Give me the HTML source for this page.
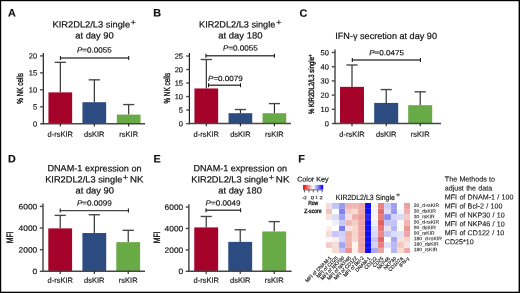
<!DOCTYPE html>
<html lang="en">
<head>
<meta charset="utf-8">
<title>Figure</title>
<style>
html,body{margin:0;padding:0;background:#fff;}
body{width:520px;height:293px;overflow:hidden;position:relative;}
svg{display:block;position:absolute;left:0;top:0;will-change:transform;}
text{font-family:'Liberation Sans', sans-serif;fill:#111;stroke:#111;stroke-width:0.16px;text-rendering:geometricPrecision;}
</style>
</head>
<body>
<svg width="520" height="293" viewBox="0 0 520 293">
<defs>
<linearGradient id="ck" x1="0" x2="1" y1="0" y2="0">
<stop offset="0" stop-color="#E00000"/>
<stop offset="0.5" stop-color="#FFFFFF"/>
<stop offset="1" stop-color="#0000F0"/>
</linearGradient>
</defs>
<rect x="0" y="0" width="520" height="293" fill="#ffffff"/>
<text transform="translate(8.00,16.40) rotate(0.03)" font-size="10.8" text-anchor="start" font-weight="bold" font-style="normal" >A</text>
<text transform="translate(153.20,16.40) rotate(0.03)" font-size="10.8" text-anchor="start" font-weight="bold" font-style="normal" >B</text>
<text transform="translate(299.40,16.80) rotate(0.03)" font-size="10.8" text-anchor="start" font-weight="bold" font-style="normal" >C</text>
<text transform="translate(8.00,162.60) rotate(0.03)" font-size="10.8" text-anchor="start" font-weight="bold" font-style="normal" >D</text>
<text transform="translate(153.40,162.60) rotate(0.03)" font-size="10.8" text-anchor="start" font-weight="bold" font-style="normal" >E</text>
<text transform="translate(298.20,162.60) rotate(0.03)" font-size="10.8" text-anchor="start" font-weight="bold" font-style="normal" >F</text>
<text transform="translate(52.56,27.50) rotate(0.03)" font-size="9.0" textLength="77.49" lengthAdjust="spacingAndGlyphs" style="stroke-width:0.2px">KIR2DL2/L3 single</text>
<text transform="translate(130.41,25.00) rotate(0.03)" font-size="8.2" textLength="5.50" lengthAdjust="spacingAndGlyphs" >+</text>
<text transform="translate(75.26,38.60) rotate(0.03)" font-size="9.0" textLength="38.49" lengthAdjust="spacingAndGlyphs" style="stroke-width:0.2px">at day 90</text>
<text transform="translate(94.30,52.60) rotate(0.03)" font-size="7.4" text-anchor="middle" textLength="34.8" lengthAdjust="spacingAndGlyphs"><tspan font-style="italic">P</tspan>=0.0055</text>
<line x1="60.40" y1="58.00" x2="128.70" y2="58.00" stroke="#484848" stroke-width="1.38"/>
<line x1="60.40" y1="56.00" x2="60.40" y2="60.00" stroke="#141414" stroke-width="1.04"/>
<line x1="128.70" y1="56.00" x2="128.70" y2="60.00" stroke="#141414" stroke-width="1.04"/>
<line x1="60.30" y1="92.37" x2="60.30" y2="62.35" stroke="#141414" stroke-width="1.04"/>
<line x1="54.70" y1="62.35" x2="65.90" y2="62.35" stroke="#484848" stroke-width="1.38"/>
<rect x="48.45" y="92.37" width="23.70" height="31.38" fill="#A50329"/>
<line x1="94.30" y1="102.21" x2="94.30" y2="79.82" stroke="#141414" stroke-width="1.04"/>
<line x1="88.70" y1="79.82" x2="99.90" y2="79.82" stroke="#484848" stroke-width="1.38"/>
<rect x="82.45" y="102.21" width="23.70" height="21.54" fill="#2C4B80"/>
<line x1="128.70" y1="114.59" x2="128.70" y2="104.58" stroke="#141414" stroke-width="1.04"/>
<line x1="123.10" y1="104.58" x2="134.30" y2="104.58" stroke="#484848" stroke-width="1.38"/>
<rect x="116.85" y="114.59" width="23.70" height="9.16" fill="#68AA46"/>
<line x1="43.30" y1="53.00" x2="43.30" y2="124.30" stroke="#141414" stroke-width="1.14"/>
<line x1="42.70" y1="123.75" x2="145.00" y2="123.75" stroke="#484848" stroke-width="1.50"/>
<line x1="40.10" y1="123.75" x2="43.30" y2="123.75" stroke="#484848" stroke-width="1.38"/>
<text transform="translate(37.20,126.45) rotate(0.03)" font-size="7.5" text-anchor="end" font-weight="normal" font-style="normal" textLength="4.17" lengthAdjust="spacingAndGlyphs">0</text>
<line x1="40.10" y1="106.79" x2="43.30" y2="106.79" stroke="#484848" stroke-width="1.38"/>
<text transform="translate(37.20,109.49) rotate(0.03)" font-size="7.5" text-anchor="end" font-weight="normal" font-style="normal" textLength="4.17" lengthAdjust="spacingAndGlyphs">5</text>
<line x1="40.10" y1="89.83" x2="43.30" y2="89.83" stroke="#484848" stroke-width="1.38"/>
<text transform="translate(37.20,92.53) rotate(0.03)" font-size="7.5" text-anchor="end" font-weight="normal" font-style="normal" textLength="8.34" lengthAdjust="spacingAndGlyphs">10</text>
<line x1="40.10" y1="72.86" x2="43.30" y2="72.86" stroke="#484848" stroke-width="1.38"/>
<text transform="translate(37.20,75.56) rotate(0.03)" font-size="7.5" text-anchor="end" font-weight="normal" font-style="normal" textLength="8.34" lengthAdjust="spacingAndGlyphs">15</text>
<line x1="40.10" y1="55.90" x2="43.30" y2="55.90" stroke="#484848" stroke-width="1.38"/>
<text transform="translate(37.20,58.60) rotate(0.03)" font-size="7.5" text-anchor="end" font-weight="normal" font-style="normal" textLength="8.34" lengthAdjust="spacingAndGlyphs">20</text>
<line x1="60.30" y1="123.75" x2="60.30" y2="126.45" stroke="#141414" stroke-width="1.04"/>
<text transform="translate(60.30,136.80) rotate(0.03)" font-size="7.5" text-anchor="middle" font-weight="normal" font-style="normal" >d-rsKIR</text>
<line x1="94.30" y1="123.75" x2="94.30" y2="126.45" stroke="#141414" stroke-width="1.04"/>
<text transform="translate(94.30,136.80) rotate(0.03)" font-size="7.5" text-anchor="middle" font-weight="normal" font-style="normal" >dsKIR</text>
<line x1="128.70" y1="123.75" x2="128.70" y2="126.45" stroke="#141414" stroke-width="1.04"/>
<text transform="translate(128.70,136.80) rotate(0.03)" font-size="7.5" text-anchor="middle" font-weight="normal" font-style="normal" >rsKIR</text>
<text transform="translate(23.10,88.40) rotate(-90)" font-size="8.8" text-anchor="middle" textLength="30.8" lengthAdjust="spacingAndGlyphs" style="stroke-width:0.36px">% NK cells</text>
<text transform="translate(199.06,27.50) rotate(0.03)" font-size="9.0" textLength="76.19" lengthAdjust="spacingAndGlyphs" style="stroke-width:0.2px">KIR2DL2/L3 single</text>
<text transform="translate(276.11,25.00) rotate(0.03)" font-size="8.2" textLength="5.60" lengthAdjust="spacingAndGlyphs" >+</text>
<text transform="translate(218.26,38.60) rotate(0.03)" font-size="9.0" textLength="44.29" lengthAdjust="spacingAndGlyphs" style="stroke-width:0.2px">at day 180</text>
<text transform="translate(240.40,50.60) rotate(0.03)" font-size="7.4" text-anchor="middle" textLength="34.8" lengthAdjust="spacingAndGlyphs"><tspan font-style="italic">P</tspan>=0.0055</text>
<line x1="205.90" y1="55.70" x2="274.40" y2="55.70" stroke="#484848" stroke-width="1.38"/>
<line x1="205.90" y1="53.70" x2="205.90" y2="57.70" stroke="#141414" stroke-width="1.04"/>
<line x1="274.40" y1="53.70" x2="274.40" y2="57.70" stroke="#141414" stroke-width="1.04"/>
<text transform="translate(208.00,80.90) rotate(0.03)" font-size="7.4" text-anchor="start" textLength="34.8" lengthAdjust="spacingAndGlyphs"><tspan font-style="italic">P</tspan>=0.0079</text>
<line x1="208.50" y1="85.20" x2="240.50" y2="85.20" stroke="#484848" stroke-width="1.38"/>
<line x1="208.50" y1="83.20" x2="208.50" y2="87.20" stroke="#141414" stroke-width="1.04"/>
<line x1="240.50" y1="83.20" x2="240.50" y2="87.20" stroke="#141414" stroke-width="1.04"/>
<line x1="206.30" y1="88.45" x2="206.30" y2="59.52" stroke="#141414" stroke-width="1.04"/>
<line x1="200.70" y1="59.52" x2="211.90" y2="59.52" stroke="#484848" stroke-width="1.38"/>
<rect x="194.45" y="88.45" width="23.70" height="35.15" fill="#A50329"/>
<line x1="240.40" y1="113.19" x2="240.40" y2="109.54" stroke="#141414" stroke-width="1.04"/>
<line x1="234.80" y1="109.54" x2="246.00" y2="109.54" stroke="#484848" stroke-width="1.38"/>
<rect x="228.55" y="113.19" width="23.70" height="10.41" fill="#2C4B80"/>
<line x1="274.40" y1="113.19" x2="274.40" y2="103.59" stroke="#141414" stroke-width="1.04"/>
<line x1="268.80" y1="103.59" x2="280.00" y2="103.59" stroke="#484848" stroke-width="1.38"/>
<rect x="262.55" y="113.19" width="23.70" height="10.41" fill="#68AA46"/>
<line x1="189.40" y1="53.10" x2="189.40" y2="124.15" stroke="#141414" stroke-width="1.14"/>
<line x1="188.80" y1="123.60" x2="291.00" y2="123.60" stroke="#484848" stroke-width="1.50"/>
<line x1="186.20" y1="123.60" x2="189.40" y2="123.60" stroke="#484848" stroke-width="1.38"/>
<text transform="translate(183.00,126.30) rotate(0.03)" font-size="7.5" text-anchor="end" font-weight="normal" font-style="normal" textLength="4.17" lengthAdjust="spacingAndGlyphs">0</text>
<line x1="186.20" y1="110.08" x2="189.40" y2="110.08" stroke="#484848" stroke-width="1.38"/>
<text transform="translate(183.00,112.78) rotate(0.03)" font-size="7.5" text-anchor="end" font-weight="normal" font-style="normal" textLength="4.17" lengthAdjust="spacingAndGlyphs">5</text>
<line x1="186.20" y1="96.56" x2="189.40" y2="96.56" stroke="#484848" stroke-width="1.38"/>
<text transform="translate(183.00,99.26) rotate(0.03)" font-size="7.5" text-anchor="end" font-weight="normal" font-style="normal" textLength="8.34" lengthAdjust="spacingAndGlyphs">10</text>
<line x1="186.20" y1="83.04" x2="189.40" y2="83.04" stroke="#484848" stroke-width="1.38"/>
<text transform="translate(183.00,85.74) rotate(0.03)" font-size="7.5" text-anchor="end" font-weight="normal" font-style="normal" textLength="8.34" lengthAdjust="spacingAndGlyphs">15</text>
<line x1="186.20" y1="69.52" x2="189.40" y2="69.52" stroke="#484848" stroke-width="1.38"/>
<text transform="translate(183.00,72.22) rotate(0.03)" font-size="7.5" text-anchor="end" font-weight="normal" font-style="normal" textLength="8.34" lengthAdjust="spacingAndGlyphs">20</text>
<line x1="186.20" y1="56.00" x2="189.40" y2="56.00" stroke="#484848" stroke-width="1.38"/>
<text transform="translate(183.00,58.70) rotate(0.03)" font-size="7.5" text-anchor="end" font-weight="normal" font-style="normal" textLength="8.34" lengthAdjust="spacingAndGlyphs">25</text>
<line x1="206.30" y1="123.60" x2="206.30" y2="126.30" stroke="#141414" stroke-width="1.04"/>
<text transform="translate(206.30,136.80) rotate(0.03)" font-size="7.5" text-anchor="middle" font-weight="normal" font-style="normal" >d-rsKIR</text>
<line x1="240.40" y1="123.60" x2="240.40" y2="126.30" stroke="#141414" stroke-width="1.04"/>
<text transform="translate(240.40,136.80) rotate(0.03)" font-size="7.5" text-anchor="middle" font-weight="normal" font-style="normal" >dsKIR</text>
<line x1="274.40" y1="123.60" x2="274.40" y2="126.30" stroke="#141414" stroke-width="1.04"/>
<text transform="translate(274.40,136.80) rotate(0.03)" font-size="7.5" text-anchor="middle" font-weight="normal" font-style="normal" >rsKIR</text>
<text transform="translate(169.60,88.20) rotate(-90)" font-size="8.8" text-anchor="middle" textLength="30.8" lengthAdjust="spacingAndGlyphs" style="stroke-width:0.36px">% NK cells</text>
<text transform="translate(335.26,38.90) rotate(0.03)" font-size="9.0" textLength="101.69" lengthAdjust="spacingAndGlyphs" style="stroke-width:0.2px">IFN-γ secretion at day 90</text>
<text transform="translate(386.60,55.20) rotate(0.03)" font-size="7.4" text-anchor="middle" textLength="34.8" lengthAdjust="spacingAndGlyphs"><tspan font-style="italic">P</tspan>=0.0475</text>
<line x1="352.30" y1="60.00" x2="420.40" y2="60.00" stroke="#484848" stroke-width="1.38"/>
<line x1="352.30" y1="58.00" x2="352.30" y2="62.00" stroke="#141414" stroke-width="1.04"/>
<line x1="420.40" y1="58.00" x2="420.40" y2="62.00" stroke="#141414" stroke-width="1.04"/>
<line x1="352.00" y1="86.86" x2="352.00" y2="65.00" stroke="#141414" stroke-width="1.04"/>
<line x1="346.40" y1="65.00" x2="357.60" y2="65.00" stroke="#484848" stroke-width="1.38"/>
<rect x="340.00" y="86.86" width="24.00" height="36.64" fill="#A50329"/>
<line x1="386.20" y1="102.91" x2="386.20" y2="89.56" stroke="#141414" stroke-width="1.04"/>
<line x1="380.60" y1="89.56" x2="391.80" y2="89.56" stroke="#484848" stroke-width="1.38"/>
<rect x="374.20" y="102.91" width="24.00" height="20.59" fill="#2C4B80"/>
<line x1="420.20" y1="105.18" x2="420.20" y2="91.83" stroke="#141414" stroke-width="1.04"/>
<line x1="414.60" y1="91.83" x2="425.80" y2="91.83" stroke="#484848" stroke-width="1.38"/>
<rect x="408.20" y="105.18" width="24.00" height="18.32" fill="#68AA46"/>
<line x1="335.00" y1="49.60" x2="335.00" y2="124.05" stroke="#141414" stroke-width="1.14"/>
<line x1="334.40" y1="123.50" x2="441.00" y2="123.50" stroke="#484848" stroke-width="1.50"/>
<line x1="331.80" y1="123.50" x2="335.00" y2="123.50" stroke="#484848" stroke-width="1.38"/>
<text transform="translate(328.80,126.20) rotate(0.03)" font-size="7.5" text-anchor="end" font-weight="normal" font-style="normal" textLength="4.17" lengthAdjust="spacingAndGlyphs">0</text>
<line x1="331.80" y1="109.30" x2="335.00" y2="109.30" stroke="#484848" stroke-width="1.38"/>
<text transform="translate(328.80,112.00) rotate(0.03)" font-size="7.5" text-anchor="end" font-weight="normal" font-style="normal" textLength="8.34" lengthAdjust="spacingAndGlyphs">10</text>
<line x1="331.80" y1="95.10" x2="335.00" y2="95.10" stroke="#484848" stroke-width="1.38"/>
<text transform="translate(328.80,97.80) rotate(0.03)" font-size="7.5" text-anchor="end" font-weight="normal" font-style="normal" textLength="8.34" lengthAdjust="spacingAndGlyphs">20</text>
<line x1="331.80" y1="80.90" x2="335.00" y2="80.90" stroke="#484848" stroke-width="1.38"/>
<text transform="translate(328.80,83.60) rotate(0.03)" font-size="7.5" text-anchor="end" font-weight="normal" font-style="normal" textLength="8.34" lengthAdjust="spacingAndGlyphs">30</text>
<line x1="331.80" y1="66.70" x2="335.00" y2="66.70" stroke="#484848" stroke-width="1.38"/>
<text transform="translate(328.80,69.40) rotate(0.03)" font-size="7.5" text-anchor="end" font-weight="normal" font-style="normal" textLength="8.34" lengthAdjust="spacingAndGlyphs">40</text>
<line x1="331.80" y1="52.50" x2="335.00" y2="52.50" stroke="#484848" stroke-width="1.38"/>
<text transform="translate(328.80,55.20) rotate(0.03)" font-size="7.5" text-anchor="end" font-weight="normal" font-style="normal" textLength="8.34" lengthAdjust="spacingAndGlyphs">50</text>
<line x1="352.00" y1="123.50" x2="352.00" y2="126.20" stroke="#141414" stroke-width="1.04"/>
<text transform="translate(352.00,136.80) rotate(0.03)" font-size="7.5" text-anchor="middle" font-weight="normal" font-style="normal" >d-rsKIR</text>
<line x1="386.20" y1="123.50" x2="386.20" y2="126.20" stroke="#141414" stroke-width="1.04"/>
<text transform="translate(386.20,136.80) rotate(0.03)" font-size="7.5" text-anchor="middle" font-weight="normal" font-style="normal" >dsKIR</text>
<line x1="420.20" y1="123.50" x2="420.20" y2="126.20" stroke="#141414" stroke-width="1.04"/>
<text transform="translate(420.20,136.80) rotate(0.03)" font-size="7.5" text-anchor="middle" font-weight="normal" font-style="normal" >rsKIR</text>
<text transform="translate(314.20,84.30) rotate(-90)" font-size="7.7" text-anchor="middle" textLength="59.6" lengthAdjust="spacingAndGlyphs" style="stroke-width:0.36px">% KIR2DL2/L3 single<tspan font-size="5.5" dy="-2.2">+</tspan></text>
<text transform="translate(47.46,171.35) rotate(0.03)" font-size="9.0" textLength="94.09" lengthAdjust="spacingAndGlyphs" style="stroke-width:0.2px">DNAM-1 expression on</text>
<text transform="translate(45.16,182.55) rotate(0.03)" font-size="9.0" textLength="77.19" lengthAdjust="spacingAndGlyphs" style="stroke-width:0.2px">KIR2DL2/L3 single</text>
<text transform="translate(122.51,180.10) rotate(0.03)" font-size="8.2" textLength="5.70" lengthAdjust="spacingAndGlyphs" >+</text>
<text transform="translate(129.96,182.55) rotate(0.03)" font-size="9.0" textLength="13.49" lengthAdjust="spacingAndGlyphs" style="stroke-width:0.2px">NK</text>
<text transform="translate(75.46,193.60) rotate(0.03)" font-size="9.0" textLength="38.59" lengthAdjust="spacingAndGlyphs" style="stroke-width:0.2px">at day 90</text>
<text transform="translate(94.30,205.40) rotate(0.03)" font-size="7.4" text-anchor="middle" textLength="34.8" lengthAdjust="spacingAndGlyphs"><tspan font-style="italic">P</tspan>=0.0099</text>
<line x1="60.20" y1="210.60" x2="128.40" y2="210.60" stroke="#484848" stroke-width="1.38"/>
<line x1="60.20" y1="208.60" x2="60.20" y2="212.60" stroke="#141414" stroke-width="1.04"/>
<line x1="128.40" y1="208.60" x2="128.40" y2="212.60" stroke="#141414" stroke-width="1.04"/>
<line x1="60.20" y1="228.37" x2="60.20" y2="215.38" stroke="#141414" stroke-width="1.04"/>
<line x1="54.60" y1="215.38" x2="65.80" y2="215.38" stroke="#484848" stroke-width="1.38"/>
<rect x="48.30" y="228.37" width="23.80" height="42.98" fill="#A50329"/>
<line x1="94.30" y1="233.03" x2="94.30" y2="214.74" stroke="#141414" stroke-width="1.04"/>
<line x1="88.70" y1="214.74" x2="99.90" y2="214.74" stroke="#484848" stroke-width="1.38"/>
<rect x="82.40" y="233.03" width="23.80" height="38.32" fill="#2C4B80"/>
<line x1="128.20" y1="242.12" x2="128.20" y2="230.32" stroke="#141414" stroke-width="1.04"/>
<line x1="122.60" y1="230.32" x2="133.80" y2="230.32" stroke="#484848" stroke-width="1.38"/>
<rect x="116.30" y="242.12" width="23.80" height="29.23" fill="#68AA46"/>
<line x1="43.00" y1="203.50" x2="43.00" y2="271.90" stroke="#141414" stroke-width="1.14"/>
<line x1="42.40" y1="271.35" x2="145.00" y2="271.35" stroke="#484848" stroke-width="1.50"/>
<line x1="39.80" y1="271.35" x2="43.00" y2="271.35" stroke="#484848" stroke-width="1.38"/>
<text transform="translate(37.20,274.12) rotate(0.03)" font-size="7.7" text-anchor="end" font-weight="normal" font-style="normal" textLength="4.67" lengthAdjust="spacingAndGlyphs">0</text>
<line x1="39.80" y1="249.70" x2="43.00" y2="249.70" stroke="#484848" stroke-width="1.38"/>
<text transform="translate(37.20,252.47) rotate(0.03)" font-size="7.7" text-anchor="end" font-weight="normal" font-style="normal" textLength="18.67" lengthAdjust="spacingAndGlyphs">2000</text>
<line x1="39.80" y1="228.05" x2="43.00" y2="228.05" stroke="#484848" stroke-width="1.38"/>
<text transform="translate(37.20,230.82) rotate(0.03)" font-size="7.7" text-anchor="end" font-weight="normal" font-style="normal" textLength="18.67" lengthAdjust="spacingAndGlyphs">4000</text>
<line x1="39.80" y1="206.40" x2="43.00" y2="206.40" stroke="#484848" stroke-width="1.38"/>
<text transform="translate(37.20,209.17) rotate(0.03)" font-size="7.7" text-anchor="end" font-weight="normal" font-style="normal" textLength="18.67" lengthAdjust="spacingAndGlyphs">6000</text>
<line x1="60.20" y1="271.35" x2="60.20" y2="274.05" stroke="#141414" stroke-width="1.04"/>
<text transform="translate(60.20,282.70) rotate(0.03)" font-size="7.5" text-anchor="middle" font-weight="normal" font-style="normal" >d-rsKIR</text>
<line x1="94.30" y1="271.35" x2="94.30" y2="274.05" stroke="#141414" stroke-width="1.04"/>
<text transform="translate(94.30,282.70) rotate(0.03)" font-size="7.5" text-anchor="middle" font-weight="normal" font-style="normal" >dsKIR</text>
<line x1="128.20" y1="271.35" x2="128.20" y2="274.05" stroke="#141414" stroke-width="1.04"/>
<text transform="translate(128.20,282.70) rotate(0.03)" font-size="7.5" text-anchor="middle" font-weight="normal" font-style="normal" >rsKIR</text>
<text transform="translate(13.30,237.40) rotate(-90)" font-size="9.3" text-anchor="middle" textLength="11.8" lengthAdjust="spacingAndGlyphs" style="stroke-width:0.36px">MFI</text>
<text transform="translate(193.56,171.35) rotate(0.03)" font-size="9.0" textLength="93.49" lengthAdjust="spacingAndGlyphs" style="stroke-width:0.2px">DNAM-1 expression on</text>
<text transform="translate(191.26,182.55) rotate(0.03)" font-size="9.0" textLength="77.09" lengthAdjust="spacingAndGlyphs" style="stroke-width:0.2px">KIR2DL2/L3 single</text>
<text transform="translate(268.61,180.10) rotate(0.03)" font-size="8.2" textLength="5.70" lengthAdjust="spacingAndGlyphs" >+</text>
<text transform="translate(275.86,182.55) rotate(0.03)" font-size="9.0" textLength="13.69" lengthAdjust="spacingAndGlyphs" style="stroke-width:0.2px">NK</text>
<text transform="translate(218.26,193.60) rotate(0.03)" font-size="9.0" textLength="43.59" lengthAdjust="spacingAndGlyphs" style="stroke-width:0.2px">at day 180</text>
<text transform="translate(205.60,205.40) rotate(0.03)" font-size="7.4" text-anchor="start" textLength="34.8" lengthAdjust="spacingAndGlyphs"><tspan font-style="italic">P</tspan>=0.0049</text>
<line x1="206.00" y1="210.20" x2="240.60" y2="210.20" stroke="#484848" stroke-width="1.38"/>
<line x1="206.00" y1="208.20" x2="206.00" y2="212.20" stroke="#141414" stroke-width="1.04"/>
<line x1="240.60" y1="208.20" x2="240.60" y2="212.20" stroke="#141414" stroke-width="1.04"/>
<line x1="206.20" y1="227.41" x2="206.20" y2="216.48" stroke="#141414" stroke-width="1.04"/>
<line x1="200.60" y1="216.48" x2="211.80" y2="216.48" stroke="#484848" stroke-width="1.38"/>
<rect x="194.25" y="227.41" width="23.90" height="43.94" fill="#A50329"/>
<line x1="240.20" y1="241.88" x2="240.20" y2="229.77" stroke="#141414" stroke-width="1.04"/>
<line x1="234.60" y1="229.77" x2="245.80" y2="229.77" stroke="#484848" stroke-width="1.38"/>
<rect x="228.25" y="241.88" width="23.90" height="29.47" fill="#2C4B80"/>
<line x1="274.20" y1="231.48" x2="274.20" y2="221.62" stroke="#141414" stroke-width="1.04"/>
<line x1="268.60" y1="221.62" x2="279.80" y2="221.62" stroke="#484848" stroke-width="1.38"/>
<rect x="262.25" y="231.48" width="23.90" height="39.87" fill="#68AA46"/>
<line x1="188.90" y1="204.15" x2="188.90" y2="271.90" stroke="#141414" stroke-width="1.14"/>
<line x1="188.30" y1="271.35" x2="291.60" y2="271.35" stroke="#484848" stroke-width="1.50"/>
<line x1="185.70" y1="271.35" x2="188.90" y2="271.35" stroke="#484848" stroke-width="1.38"/>
<text transform="translate(183.20,274.12) rotate(0.03)" font-size="7.7" text-anchor="end" font-weight="normal" font-style="normal" textLength="4.67" lengthAdjust="spacingAndGlyphs">0</text>
<line x1="185.70" y1="249.92" x2="188.90" y2="249.92" stroke="#484848" stroke-width="1.38"/>
<text transform="translate(183.20,252.69) rotate(0.03)" font-size="7.7" text-anchor="end" font-weight="normal" font-style="normal" textLength="18.67" lengthAdjust="spacingAndGlyphs">2000</text>
<line x1="185.70" y1="228.48" x2="188.90" y2="228.48" stroke="#484848" stroke-width="1.38"/>
<text transform="translate(183.20,231.26) rotate(0.03)" font-size="7.7" text-anchor="end" font-weight="normal" font-style="normal" textLength="18.67" lengthAdjust="spacingAndGlyphs">4000</text>
<line x1="185.70" y1="207.05" x2="188.90" y2="207.05" stroke="#484848" stroke-width="1.38"/>
<text transform="translate(183.20,209.82) rotate(0.03)" font-size="7.7" text-anchor="end" font-weight="normal" font-style="normal" textLength="18.67" lengthAdjust="spacingAndGlyphs">6000</text>
<line x1="206.20" y1="271.35" x2="206.20" y2="274.05" stroke="#141414" stroke-width="1.04"/>
<text transform="translate(206.20,282.70) rotate(0.03)" font-size="7.5" text-anchor="middle" font-weight="normal" font-style="normal" >d-rsKIR</text>
<line x1="240.20" y1="271.35" x2="240.20" y2="274.05" stroke="#141414" stroke-width="1.04"/>
<text transform="translate(240.20,282.70) rotate(0.03)" font-size="7.5" text-anchor="middle" font-weight="normal" font-style="normal" >dsKIR</text>
<line x1="274.20" y1="271.35" x2="274.20" y2="274.05" stroke="#141414" stroke-width="1.04"/>
<text transform="translate(274.20,282.70) rotate(0.03)" font-size="7.5" text-anchor="middle" font-weight="normal" font-style="normal" >rsKIR</text>
<text transform="translate(159.50,237.40) rotate(-90)" font-size="9.3" text-anchor="middle" textLength="11.8" lengthAdjust="spacingAndGlyphs" style="stroke-width:0.36px">MFI</text>
<text transform="translate(297.19,181.40) rotate(0.03)" font-size="6.9" textLength="31.36" lengthAdjust="spacingAndGlyphs" >Color Key</text>
<rect x="303.1" y="184.9" width="20.1" height="4.4" fill="url(#ck)"/>
<line x1="303.10" y1="189.90" x2="323.20" y2="189.90" stroke="#222" stroke-width="0.70"/>
<line x1="304.50" y1="189.90" x2="304.50" y2="192.40" stroke="#222" stroke-width="0.70"/>
<line x1="308.90" y1="189.90" x2="308.90" y2="192.40" stroke="#222" stroke-width="0.70"/>
<line x1="313.30" y1="189.90" x2="313.30" y2="192.40" stroke="#222" stroke-width="0.70"/>
<line x1="317.70" y1="189.90" x2="317.70" y2="192.40" stroke="#222" stroke-width="0.70"/>
<line x1="322.10" y1="189.90" x2="322.10" y2="192.40" stroke="#222" stroke-width="0.70"/>
<text transform="translate(302.52,199.20) rotate(0.03)" font-size="4.7" textLength="4.22" lengthAdjust="spacingAndGlyphs" >-2</text>
<text transform="translate(310.92,199.20) rotate(0.03)" font-size="4.7" textLength="2.92" lengthAdjust="spacingAndGlyphs" >0</text>
<text transform="translate(315.62,199.20) rotate(0.03)" font-size="4.7" textLength="1.92" lengthAdjust="spacingAndGlyphs" >1</text>
<text transform="translate(319.62,199.20) rotate(0.03)" font-size="4.7" textLength="3.12" lengthAdjust="spacingAndGlyphs" >2</text>
<text transform="translate(308.14,205.40) rotate(0.03)" font-size="6.0" textLength="9.96" lengthAdjust="spacingAndGlyphs" style="stroke-width:0.3px">Row</text>
<text transform="translate(304.24,212.90) rotate(0.03)" font-size="6.0" textLength="17.46" lengthAdjust="spacingAndGlyphs" style="stroke-width:0.3px">Z-score</text>
<text transform="translate(335.84,199.60) rotate(0.03)" font-size="7.6" textLength="58.94" lengthAdjust="spacingAndGlyphs" >KIR2DL2/L3 Single</text>
<text transform="translate(396.06,196.80) rotate(0.03)" font-size="5.6" textLength="4.22" lengthAdjust="spacingAndGlyphs" >+</text>
<g shape-rendering="crispEdges">
<rect x="326.00" y="203.20" width="6.54" height="5.63" fill="#F2DCDC"/>
<rect x="332.49" y="203.20" width="6.54" height="5.63" fill="#C0C4F4"/>
<rect x="338.98" y="203.20" width="6.54" height="5.63" fill="#9A9AF0"/>
<rect x="345.47" y="203.20" width="6.54" height="5.63" fill="#F0B4B4"/>
<rect x="351.96" y="203.20" width="6.54" height="5.63" fill="#F0B8B4"/>
<rect x="358.45" y="203.20" width="6.54" height="5.63" fill="#EFA8A8"/>
<rect x="364.94" y="203.20" width="6.54" height="5.63" fill="#0E0EF4"/>
<rect x="371.43" y="203.20" width="6.54" height="5.63" fill="#FCF8F0"/>
<rect x="377.92" y="203.20" width="6.54" height="5.63" fill="#E88080"/>
<rect x="384.41" y="203.20" width="6.54" height="5.63" fill="#CCCCF8"/>
<rect x="390.90" y="203.20" width="6.54" height="5.63" fill="#A0A0F2"/>
<rect x="397.39" y="203.20" width="6.54" height="5.63" fill="#FFFFFF"/>
<rect x="403.88" y="203.20" width="6.54" height="5.63" fill="#EEA0A0"/>
<rect x="326.00" y="208.78" width="6.54" height="5.63" fill="#F4C4BC"/>
<rect x="332.49" y="208.78" width="6.54" height="5.63" fill="#FFFFFF"/>
<rect x="338.98" y="208.78" width="6.54" height="5.63" fill="#8080EE"/>
<rect x="345.47" y="208.78" width="6.54" height="5.63" fill="#F4CCC8"/>
<rect x="351.96" y="208.78" width="6.54" height="5.63" fill="#F6DCD0"/>
<rect x="358.45" y="208.78" width="6.54" height="5.63" fill="#EFA8A8"/>
<rect x="364.94" y="208.78" width="6.54" height="5.63" fill="#0E0EF4"/>
<rect x="371.43" y="208.78" width="6.54" height="5.63" fill="#F0F4FF"/>
<rect x="377.92" y="208.78" width="6.54" height="5.63" fill="#E46C6C"/>
<rect x="384.41" y="208.78" width="6.54" height="5.63" fill="#E4DCF0"/>
<rect x="390.90" y="208.78" width="6.54" height="5.63" fill="#9898F0"/>
<rect x="397.39" y="208.78" width="6.54" height="5.63" fill="#F0F4FC"/>
<rect x="403.88" y="208.78" width="6.54" height="5.63" fill="#F0B0B0"/>
<rect x="326.00" y="214.36" width="6.54" height="5.63" fill="#F8E4DC"/>
<rect x="332.49" y="214.36" width="6.54" height="5.63" fill="#DCDCF8"/>
<rect x="338.98" y="214.36" width="6.54" height="5.63" fill="#A0A0F4"/>
<rect x="345.47" y="214.36" width="6.54" height="5.63" fill="#F2E0E0"/>
<rect x="351.96" y="214.36" width="6.54" height="5.63" fill="#F0B0AC"/>
<rect x="358.45" y="214.36" width="6.54" height="5.63" fill="#EE9C9C"/>
<rect x="364.94" y="214.36" width="6.54" height="5.63" fill="#2222F0"/>
<rect x="371.43" y="214.36" width="6.54" height="5.63" fill="#FCF4EC"/>
<rect x="377.92" y="214.36" width="6.54" height="5.63" fill="#E87C7C"/>
<rect x="384.41" y="214.36" width="6.54" height="5.63" fill="#8C8CF0"/>
<rect x="390.90" y="214.36" width="6.54" height="5.63" fill="#D4D4F8"/>
<rect x="397.39" y="214.36" width="6.54" height="5.63" fill="#D8D8F8"/>
<rect x="403.88" y="214.36" width="6.54" height="5.63" fill="#F4C8C8"/>
<rect x="326.00" y="219.94" width="6.54" height="5.63" fill="#FFFFFF"/>
<rect x="332.49" y="219.94" width="6.54" height="5.63" fill="#F0F0FC"/>
<rect x="338.98" y="219.94" width="6.54" height="5.63" fill="#C8C8F6"/>
<rect x="345.47" y="219.94" width="6.54" height="5.63" fill="#F2B8B8"/>
<rect x="351.96" y="219.94" width="6.54" height="5.63" fill="#F4CCC4"/>
<rect x="358.45" y="219.94" width="6.54" height="5.63" fill="#EFA4A4"/>
<rect x="364.94" y="219.94" width="6.54" height="5.63" fill="#0E0EF4"/>
<rect x="371.43" y="219.94" width="6.54" height="5.63" fill="#ECF0FC"/>
<rect x="377.92" y="219.94" width="6.54" height="5.63" fill="#E26060"/>
<rect x="384.41" y="219.94" width="6.54" height="5.63" fill="#C4C4F6"/>
<rect x="390.90" y="219.94" width="6.54" height="5.63" fill="#C0C0F4"/>
<rect x="397.39" y="219.94" width="6.54" height="5.63" fill="#FCF8F0"/>
<rect x="403.88" y="219.94" width="6.54" height="5.63" fill="#F0B4B0"/>
<rect x="326.00" y="225.52" width="6.54" height="5.63" fill="#FAF0E8"/>
<rect x="332.49" y="225.52" width="6.54" height="5.63" fill="#FFFFFF"/>
<rect x="338.98" y="225.52" width="6.54" height="5.63" fill="#7C7CEC"/>
<rect x="345.47" y="225.52" width="6.54" height="5.63" fill="#F4E4E4"/>
<rect x="351.96" y="225.52" width="6.54" height="5.63" fill="#F6D8CC"/>
<rect x="358.45" y="225.52" width="6.54" height="5.63" fill="#EFA4A4"/>
<rect x="364.94" y="225.52" width="6.54" height="5.63" fill="#0E0EF4"/>
<rect x="371.43" y="225.52" width="6.54" height="5.63" fill="#DCE0FA"/>
<rect x="377.92" y="225.52" width="6.54" height="5.63" fill="#E87878"/>
<rect x="384.41" y="225.52" width="6.54" height="5.63" fill="#E8E0F0"/>
<rect x="390.90" y="225.52" width="6.54" height="5.63" fill="#B4B4F4"/>
<rect x="397.39" y="225.52" width="6.54" height="5.63" fill="#FCFAF4"/>
<rect x="403.88" y="225.52" width="6.54" height="5.63" fill="#EC9494"/>
<rect x="326.00" y="231.10" width="6.54" height="5.63" fill="#F4DCD8"/>
<rect x="332.49" y="231.10" width="6.54" height="5.63" fill="#C4C4F6"/>
<rect x="338.98" y="231.10" width="6.54" height="5.63" fill="#D0D0F8"/>
<rect x="345.47" y="231.10" width="6.54" height="5.63" fill="#F0B0A4"/>
<rect x="351.96" y="231.10" width="6.54" height="5.63" fill="#F6D4C8"/>
<rect x="358.45" y="231.10" width="6.54" height="5.63" fill="#EFA4A4"/>
<rect x="364.94" y="231.10" width="6.54" height="5.63" fill="#0E0EF4"/>
<rect x="371.43" y="231.10" width="6.54" height="5.63" fill="#D8D8F8"/>
<rect x="377.92" y="231.10" width="6.54" height="5.63" fill="#EA8888"/>
<rect x="384.41" y="231.10" width="6.54" height="5.63" fill="#C4C4F6"/>
<rect x="390.90" y="231.10" width="6.54" height="5.63" fill="#DCDCF8"/>
<rect x="397.39" y="231.10" width="6.54" height="5.63" fill="#E0E0F8"/>
<rect x="403.88" y="231.10" width="6.54" height="5.63" fill="#EEA4A4"/>
<rect x="326.00" y="236.68" width="6.54" height="5.63" fill="#F8F8FF"/>
<rect x="332.49" y="236.68" width="6.54" height="5.63" fill="#FAEEE6"/>
<rect x="338.98" y="236.68" width="6.54" height="5.63" fill="#D4D4F8"/>
<rect x="345.47" y="236.68" width="6.54" height="5.63" fill="#F0B4AC"/>
<rect x="351.96" y="236.68" width="6.54" height="5.63" fill="#F4D8D4"/>
<rect x="358.45" y="236.68" width="6.54" height="5.63" fill="#EFA8A8"/>
<rect x="364.94" y="236.68" width="6.54" height="5.63" fill="#0E0EF4"/>
<rect x="371.43" y="236.68" width="6.54" height="5.63" fill="#C4C4F6"/>
<rect x="377.92" y="236.68" width="6.54" height="5.63" fill="#E46464"/>
<rect x="384.41" y="236.68" width="6.54" height="5.63" fill="#FFFFFF"/>
<rect x="390.90" y="236.68" width="6.54" height="5.63" fill="#A4A4F2"/>
<rect x="397.39" y="236.68" width="6.54" height="5.63" fill="#F4E0DC"/>
<rect x="403.88" y="236.68" width="6.54" height="5.63" fill="#F6D4CC"/>
<rect x="326.00" y="242.26" width="6.54" height="5.63" fill="#F4CCC4"/>
<rect x="332.49" y="242.26" width="6.54" height="5.63" fill="#F2DCDC"/>
<rect x="338.98" y="242.26" width="6.54" height="5.63" fill="#A4A4F2"/>
<rect x="345.47" y="242.26" width="6.54" height="5.63" fill="#F0B0AC"/>
<rect x="351.96" y="242.26" width="6.54" height="5.63" fill="#FCF8F0"/>
<rect x="358.45" y="242.26" width="6.54" height="5.63" fill="#EFA4A4"/>
<rect x="364.94" y="242.26" width="6.54" height="5.63" fill="#0E0EF4"/>
<rect x="371.43" y="242.26" width="6.54" height="5.63" fill="#D0D0F8"/>
<rect x="377.92" y="242.26" width="6.54" height="5.63" fill="#E88080"/>
<rect x="384.41" y="242.26" width="6.54" height="5.63" fill="#E0E0FA"/>
<rect x="390.90" y="242.26" width="6.54" height="5.63" fill="#B8B8F4"/>
<rect x="397.39" y="242.26" width="6.54" height="5.63" fill="#F4C8BC"/>
<rect x="403.88" y="242.26" width="6.54" height="5.63" fill="#F4E4E4"/>
<rect x="326.00" y="247.84" width="6.54" height="5.63" fill="#FFFCF8"/>
<rect x="332.49" y="247.84" width="6.54" height="5.63" fill="#F8DCD0"/>
<rect x="338.98" y="247.84" width="6.54" height="5.63" fill="#C4C4F6"/>
<rect x="345.47" y="247.84" width="6.54" height="5.63" fill="#EC9090"/>
<rect x="351.96" y="247.84" width="6.54" height="5.63" fill="#FAF0E8"/>
<rect x="358.45" y="247.84" width="6.54" height="5.63" fill="#EFA8A8"/>
<rect x="364.94" y="247.84" width="6.54" height="5.63" fill="#0E0EF4"/>
<rect x="371.43" y="247.84" width="6.54" height="5.63" fill="#A8A8F2"/>
<rect x="377.92" y="247.84" width="6.54" height="5.63" fill="#EEA4A4"/>
<rect x="384.41" y="247.84" width="6.54" height="5.63" fill="#FCFCFF"/>
<rect x="390.90" y="247.84" width="6.54" height="5.63" fill="#B4B4F4"/>
<rect x="397.39" y="247.84" width="6.54" height="5.63" fill="#F8DCD0"/>
<rect x="403.88" y="247.84" width="6.54" height="5.63" fill="#EEA8A8"/>
</g><g stroke="#ffffff" stroke-opacity="0.28" stroke-width="0.5">
<line x1="326.00" y1="208.78" x2="410.37" y2="208.78"/>
<line x1="326.00" y1="214.36" x2="410.37" y2="214.36"/>
<line x1="326.00" y1="219.94" x2="410.37" y2="219.94"/>
<line x1="326.00" y1="225.52" x2="410.37" y2="225.52"/>
<line x1="326.00" y1="231.10" x2="410.37" y2="231.10"/>
<line x1="326.00" y1="236.68" x2="410.37" y2="236.68"/>
<line x1="326.00" y1="242.26" x2="410.37" y2="242.26"/>
<line x1="326.00" y1="247.84" x2="410.37" y2="247.84"/>
<line x1="332.49" y1="203.20" x2="332.49" y2="253.42"/>
<line x1="338.98" y1="203.20" x2="338.98" y2="253.42"/>
<line x1="345.47" y1="203.20" x2="345.47" y2="253.42"/>
<line x1="351.96" y1="203.20" x2="351.96" y2="253.42"/>
<line x1="358.45" y1="203.20" x2="358.45" y2="253.42"/>
<line x1="364.94" y1="203.20" x2="364.94" y2="253.42"/>
<line x1="371.43" y1="203.20" x2="371.43" y2="253.42"/>
<line x1="377.92" y1="203.20" x2="377.92" y2="253.42"/>
<line x1="384.41" y1="203.20" x2="384.41" y2="253.42"/>
<line x1="390.90" y1="203.20" x2="390.90" y2="253.42"/>
<line x1="397.39" y1="203.20" x2="397.39" y2="253.42"/>
<line x1="403.88" y1="203.20" x2="403.88" y2="253.42"/>
</g>
<text transform="translate(413.80,207.10) rotate(0.03)" font-size="5.0" text-anchor="start" font-weight="normal" font-style="normal" style="stroke-width:0.07px;fill:#141414">30_d-rsKIR</text>
<text transform="translate(413.80,212.63) rotate(0.03)" font-size="5.0" text-anchor="start" font-weight="normal" font-style="normal" style="stroke-width:0.07px;fill:#141414">30_dsKIR</text>
<text transform="translate(413.80,218.16) rotate(0.03)" font-size="5.0" text-anchor="start" font-weight="normal" font-style="normal" style="stroke-width:0.07px;fill:#141414">30_rsKIR</text>
<text transform="translate(413.80,223.69) rotate(0.03)" font-size="5.0" text-anchor="start" font-weight="normal" font-style="normal" style="stroke-width:0.07px;fill:#141414">90_d-rsKIR</text>
<text transform="translate(413.80,229.22) rotate(0.03)" font-size="5.0" text-anchor="start" font-weight="normal" font-style="normal" style="stroke-width:0.07px;fill:#141414">90_dsKIR</text>
<text transform="translate(413.80,234.75) rotate(0.03)" font-size="5.0" text-anchor="start" font-weight="normal" font-style="normal" style="stroke-width:0.07px;fill:#141414">90_rsKIR</text>
<text transform="translate(413.80,240.28) rotate(0.03)" font-size="5.0" text-anchor="start" font-weight="normal" font-style="normal" style="stroke-width:0.07px;fill:#141414">180_d-rsKIR</text>
<text transform="translate(413.80,245.81) rotate(0.03)" font-size="5.0" text-anchor="start" font-weight="normal" font-style="normal" style="stroke-width:0.07px;fill:#141414">180_dsKIR</text>
<text transform="translate(413.80,251.34) rotate(0.03)" font-size="5.0" text-anchor="start" font-weight="normal" font-style="normal" style="stroke-width:0.07px;fill:#141414">180_rsKIR</text>
<text transform="translate(331.75,258.20) rotate(-45)" font-size="5.0" text-anchor="end" style="stroke-width:0.14px">MFI of DNAM-1</text>
<text transform="translate(338.24,258.20) rotate(-45)" font-size="5.0" text-anchor="end" style="stroke-width:0.14px">MFI of CD25</text>
<text transform="translate(344.73,258.20) rotate(-45)" font-size="5.0" text-anchor="end" style="stroke-width:0.14px">MFI of NKP30</text>
<text transform="translate(351.21,258.20) rotate(-45)" font-size="5.0" text-anchor="end" style="stroke-width:0.14px">MFI of NKP46</text>
<text transform="translate(357.70,258.20) rotate(-45)" font-size="5.0" text-anchor="end" style="stroke-width:0.14px">MFI of CD122</text>
<text transform="translate(364.19,258.20) rotate(-45)" font-size="5.0" text-anchor="end" style="stroke-width:0.14px">MFI of Bcl-2</text>
<text transform="translate(370.69,258.80) rotate(-45)" font-size="5.0" text-anchor="end" style="stroke-width:0.14px">DNAM-1</text>
<text transform="translate(377.18,258.80) rotate(-45)" font-size="5.0" text-anchor="end" style="stroke-width:0.14px">CD122</text>
<text transform="translate(383.67,258.80) rotate(-45)" font-size="5.0" text-anchor="end" style="stroke-width:0.14px">CD25</text>
<text transform="translate(390.15,258.80) rotate(-45)" font-size="5.0" text-anchor="end" style="stroke-width:0.14px">NKP46</text>
<text transform="translate(396.64,258.80) rotate(-45)" font-size="5.0" text-anchor="end" style="stroke-width:0.14px">NKP30</text>
<text transform="translate(403.13,258.80) rotate(-45)" font-size="5.0" text-anchor="end" style="stroke-width:0.14px">CD107a</text>
<text transform="translate(409.62,258.80) rotate(-45)" font-size="5.0" text-anchor="end" style="stroke-width:0.14px">IFN-γ</text>
<text transform="translate(444.80,181.60) rotate(0.03)" font-size="7.15" text-anchor="start" font-weight="normal" font-style="normal" word-spacing="0.3" style="stroke-width:0.1px">The Methods to</text>
<text transform="translate(444.80,190.55) rotate(0.03)" font-size="7.15" text-anchor="start" font-weight="normal" font-style="normal" word-spacing="0.3" style="stroke-width:0.1px">adjust the data</text>
<text transform="translate(444.80,199.50) rotate(0.03)" font-size="7.15" text-anchor="start" font-weight="normal" font-style="normal" word-spacing="0.3" style="stroke-width:0.1px">MFI of DNAM-1 / 100</text>
<text transform="translate(444.80,208.45) rotate(0.03)" font-size="7.15" text-anchor="start" font-weight="normal" font-style="normal" word-spacing="0.3" style="stroke-width:0.1px">MFI of Bcl-2 / 100</text>
<text transform="translate(444.80,217.40) rotate(0.03)" font-size="7.15" text-anchor="start" font-weight="normal" font-style="normal" word-spacing="0.3" style="stroke-width:0.1px">MFI of NKP30 / 10</text>
<text transform="translate(444.80,226.35) rotate(0.03)" font-size="7.15" text-anchor="start" font-weight="normal" font-style="normal" word-spacing="0.3" style="stroke-width:0.1px">MFI of NKP46 / 10</text>
<text transform="translate(444.80,235.30) rotate(0.03)" font-size="7.15" text-anchor="start" font-weight="normal" font-style="normal" word-spacing="0.3" style="stroke-width:0.1px">MFI of CD122 / 10</text>
<text transform="translate(444.80,244.25) rotate(0.03)" font-size="7.15" text-anchor="start" font-weight="normal" font-style="normal" word-spacing="0.3" style="stroke-width:0.1px">CD25*10</text>
<!-- outer frame -->
<rect x="0" y="0" width="520" height="1.2" fill="#000"/>
<rect x="0" y="291.7" width="520" height="1.3" fill="#000"/>
<rect x="0" y="0" width="1.2" height="293" fill="#000"/>
<rect x="518.6" y="0" width="1.4" height="293" fill="#000"/>
</svg>
</body>
</html>
